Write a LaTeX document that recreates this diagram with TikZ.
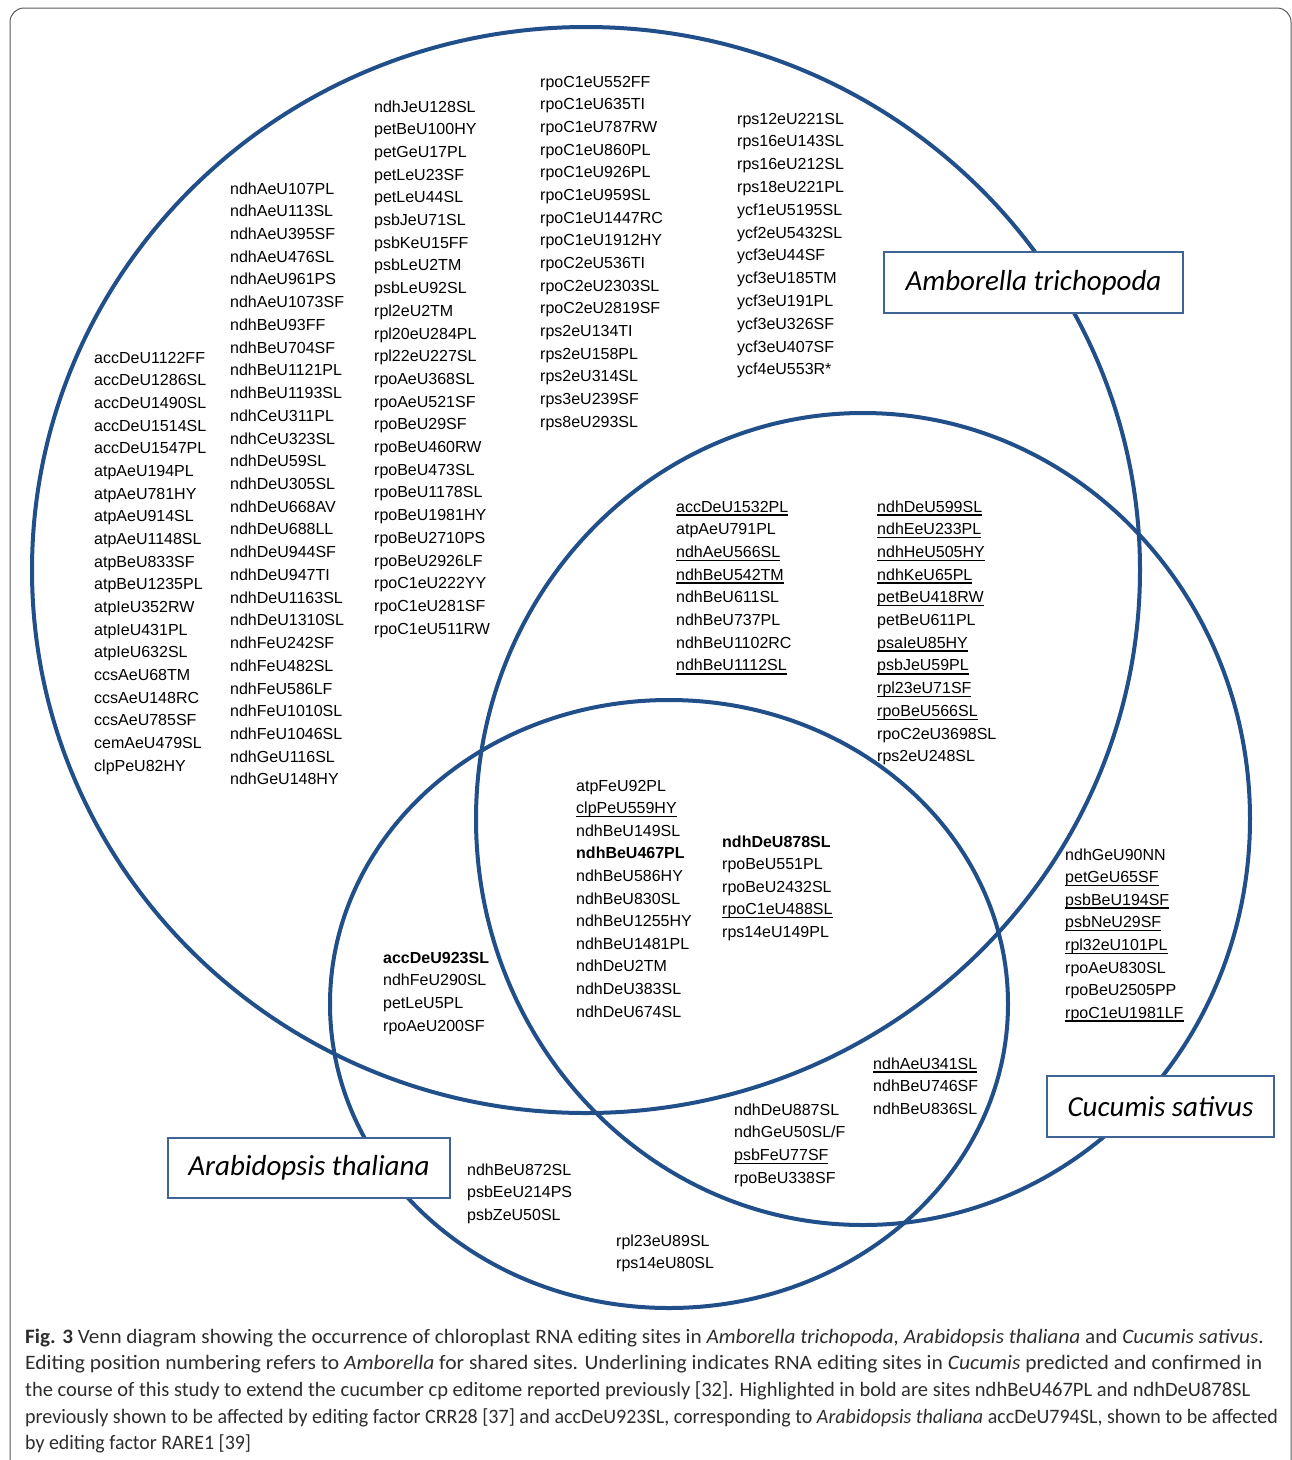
\documentclass[tikz,border=0pt]{standalone}
\usepackage{graphicx}
\usepackage{fontspec}
\setmainfont{Liberation Sans}
\newfontfamily\labfont{Carlito}
\definecolor{vennblue}{RGB}{33,79,138}
\definecolor{boxblue}{RGB}{65,100,150}
\definecolor{framegray}{RGB}{90,90,90}
\definecolor{captext}{RGB}{45,45,45}
\newcommand\sitefont{\fontsize{16}{19}\selectfont}
\newcommand\siteul[1]{\setbox0\hbox{#1}\rlap{\vrule height -2.2pt depth 3.6pt width \wd0}\box0}
\tikzset{
  site/.style={anchor=base west, inner sep=0pt, font=\sitefont, text=black},
  venn/.style={draw=vennblue, line width=4pt},
  setlabel/.style={draw=boxblue, line width=1.2pt, fill=white, inner sep=0pt,
    font=\labfont\itshape\fontsize{29}{32}\selectfont},
  capline/.style={anchor=base west, inner sep=0pt, text=captext,
    font=\labfont\fontsize{20.5}{24}\selectfont}
}
\begin{document}
\begin{tikzpicture}[x=1pt, y=-1pt]
\useasboundingbox (0,0) rectangle (1292,1460);
% frame
\draw[framegray, line width=1pt, rounded corners=14pt] (10,1480) -- (10,8) -- (1291,8) -- (1291,1480);
% Venn sets
\draw[venn] (586,570) ellipse [x radius=554pt, y radius=543pt];
\draw[venn] (863,819) ellipse [x radius=387pt, y radius=406pt];
\draw[venn] (669,1004) ellipse [x radius=339pt, y radius=304pt];
% set labels
\node[setlabel, minimum width=299pt, minimum height=61pt] (amb) at (1033.5,282.5) {Amborella trichopoda};
\node[setlabel, minimum width=282pt, minimum height=60pt] (ara) at (309,1168) {Arabidopsis thaliana};
\node[setlabel, minimum width=227pt, minimum height=61pt] (cuc) at (1160.5,1106.5) {Cucumis sativus};
% Amborella only
\foreach \t [count=\i] in {accDeU1122FF,accDeU1286SL,accDeU1490SL,accDeU1514SL,accDeU1547PL,atpAeU194PL,atpAeU781HY,atpAeU914SL,atpAeU1148SL,atpBeU833SF,atpBeU1235PL,atpIeU352RW,atpIeU431PL,atpIeU632SL,ccsAeU68TM,ccsAeU148RC,ccsAeU785SF,cemAeU479SL,clpPeU82HY}
  \node[site] (a1-\i) at (94,{363+22.67*(\i-1)}) {\t};
\foreach \t [count=\i] in {ndhAeU107PL,ndhAeU113SL,ndhAeU395SF,ndhAeU476SL,ndhAeU961PS,ndhAeU1073SF,ndhBeU93FF,ndhBeU704SF,ndhBeU1121PL,ndhBeU1193SL,ndhCeU311PL,ndhCeU323SL,ndhDeU59SL,ndhDeU305SL,ndhDeU668AV,ndhDeU688LL,ndhDeU944SF,ndhDeU947TI,ndhDeU1163SL,ndhDeU1310SL,ndhFeU242SF,ndhFeU482SL,ndhFeU586LF,ndhFeU1010SL,ndhFeU1046SL,ndhGeU116SL,ndhGeU148HY}
  \node[site] (a2-\i) at (230,{194+22.73*(\i-1)}) {\t};
\foreach \t [count=\i] in {ndhJeU128SL,petBeU100HY,petGeU17PL,petLeU23SF,petLeU44SL,psbJeU71SL,psbKeU15FF,psbLeU2TM,psbLeU92SL,rpl2eU2TM,rpl20eU284PL,rpl22eU227SL,rpoAeU368SL,rpoAeU521SF,rpoBeU29SF,rpoBeU460RW,rpoBeU473SL,rpoBeU1178SL,rpoBeU1981HY,rpoBeU2710PS,rpoBeU2926LF,rpoC1eU222YY,rpoC1eU281SF,rpoC1eU511RW}
  \node[site] (a3-\i) at (374,{112+22.7*(\i-1)}) {\t};
\foreach \t [count=\i] in {rpoC1eU552FF,rpoC1eU635TI,rpoC1eU787RW,rpoC1eU860PL,rpoC1eU926PL,rpoC1eU959SL,rpoC1eU1447RC,rpoC1eU1912HY,rpoC2eU536TI,rpoC2eU2303SL,rpoC2eU2819SF,rps2eU134TI,rps2eU158PL,rps2eU314SL,rps3eU239SF,rps8eU293SL}
  \node[site] (a4-\i) at (540,{87+22.67*(\i-1)}) {\t};
\foreach \t [count=\i] in {rps12eU221SL,rps16eU143SL,rps16eU212SL,rps18eU221PL,ycf1eU5195SL,ycf2eU5432SL,ycf3eU44SF,ycf3eU185TM,ycf3eU191PL,ycf3eU326SF,ycf3eU407SF,ycf4eU553R*}
  \node[site] (a5-\i) at (737,{124+22.8*(\i-1)}) {\t};
% Amborella & Cucumis
\foreach \t [count=\i] in {\siteul{accDeU1532PL},atpAeU791PL,\siteul{ndhAeU566SL},\siteul{ndhBeU542TM},ndhBeU611SL,ndhBeU737PL,ndhBeU1102RC,\siteul{ndhBeU1112SL}}
  \node[site] (ac1-\i) at (676,{512+22.7*(\i-1)}) {\t};
\foreach \t [count=\i] in {\siteul{ndhDeU599SL},\siteul{ndhEeU233PL},\siteul{ndhHeU505HY},\siteul{ndhKeU65PL},\siteul{petBeU418RW},petBeU611PL,\siteul{psaIeU85HY},\siteul{psbJeU59PL},\siteul{rpl23eU71SF},\siteul{rpoBeU566SL},rpoC2eU3698SL,rps2eU248SL}
  \node[site] (ac2-\i) at (877,{512+22.7*(\i-1)}) {\t};
% all three
\foreach \t [count=\i] in {atpFeU92PL,\siteul{clpPeU559HY},ndhBeU149SL,\textbf{ndhBeU467PL},ndhBeU586HY,ndhBeU830SL,ndhBeU1255HY,ndhBeU1481PL,ndhDeU2TM,ndhDeU383SL,ndhDeU674SL}
  \node[site] (all1-\i) at (576,{791+22.6*(\i-1)}) {\t};
\foreach \t [count=\i] in {\textbf{ndhDeU878SL},rpoBeU551PL,rpoBeU2432SL,\siteul{rpoC1eU488SL},rps14eU149PL}
  \node[site] (all2-\i) at (722,{847+22.6*(\i-1)}) {\t};
% Amborella & Arabidopsis
\foreach \t [count=\i] in {\textbf{accDeU923SL},ndhFeU290SL,petLeU5PL,rpoAeU200SF}
  \node[site] (aa-\i) at (383,{963+22.7*(\i-1)}) {\t};
% Cucumis only
\foreach \t [count=\i] in {ndhGeU90NN,\siteul{petGeU65SF},\siteul{psbBeU194SF},\siteul{psbNeU29SF},\siteul{rpl32eU101PL},rpoAeU830SL,rpoBeU2505PP,\siteul{rpoC1eU1981LF}}
  \node[site] (cu-\i) at (1065,{860+22.6*(\i-1)}) {\t};
% Arabidopsis & Cucumis
\foreach \t [count=\i] in {\siteul{ndhAeU341SL},ndhBeU746SF,ndhBeU836SL}
  \node[site] (ar1-\i) at (873,{1069+22.6*(\i-1)}) {\t};
\foreach \t [count=\i] in {ndhDeU887SL,ndhGeU50SL/F,\siteul{psbFeU77SF},rpoBeU338SF}
  \node[site] (ar2-\i) at (734,{1115+22.7*(\i-1)}) {\t};
% Arabidopsis only
\foreach \t [count=\i] in {ndhBeU872SL,psbEeU214PS,psbZeU50SL}
  \node[site] (ath1-\i) at (467,{1175+22.7*(\i-1)}) {\t};
\foreach \t [count=\i] in {rpl23eU89SL,rps14eU80SL}
  \node[site] (ath2-\i) at (616,{1246+22.7*(\i-1)}) {\t};
% caption
\node[capline] (cap1) at (25,1343) {\scalebox{1.035}[1]{\textbf{Fig. 3} Venn diagram showing the occurrence of chloroplast RNA editing sites in \textit{Amborella trichopoda, Arabidopsis thaliana} and \textit{Cucumis sativus}.}};
\node[capline] (cap2) at (25,1369) {\scalebox{1.05}[1]{Editing position numbering refers to \textit{Amborella} for shared sites. Underlining indicates RNA editing sites in \textit{Cucumis} predicted and confirmed in}};
\node[capline] (cap3) at (25,1396) {\scalebox{1.0}[1]{the course of this study to extend the cucumber cp editome reported previously [32]. Highlighted in bold are sites ndhBeU467PL and ndhDeU878SL}};
\node[capline] (cap4) at (25,1423) {\scalebox{0.976}[1]{previously shown to be affected by editing factor CRR28 [37] and accDeU923SL, corresponding to \textit{Arabidopsis thaliana} accDeU794SL, shown to be affected}};
\node[capline] (cap5) at (25,1449) {\scalebox{0.97}[1]{by editing factor RARE1 [39]}};
\end{tikzpicture}
\end{document}
